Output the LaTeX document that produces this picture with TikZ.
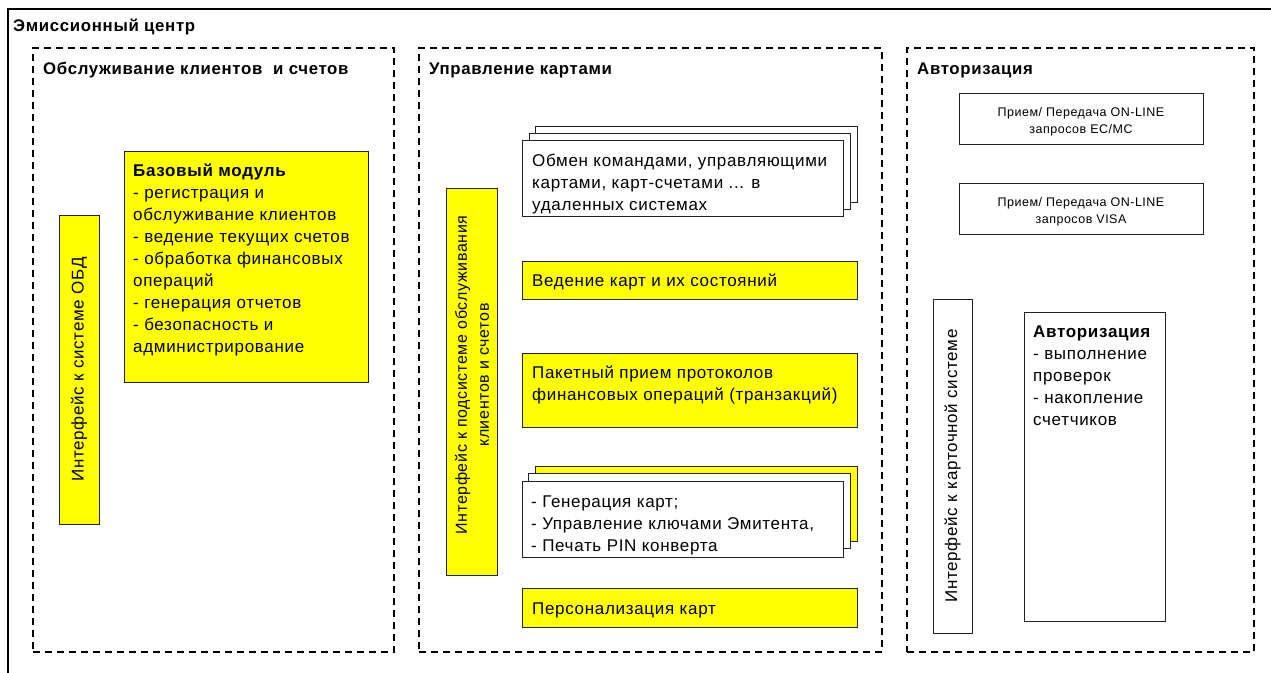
\documentclass[tikz,border=0pt]{standalone}
\usepackage{fontspec}
\setmainfont{Liberation Sans}[LetterSpace=4]
\usetikzlibrary{fit}
\definecolor{boxyellow}{RGB}{255,255,0}
\definecolor{edge}{RGB}{35,35,35}

\tikzset{
  frame/.style={draw, line width=2.8pt, inner sep=0pt},
  panel/.style={draw, line width=1.3pt, dash pattern=on 7pt off 5pt, inner sep=0pt},
  yblock/.style={draw=edge, fill=boxyellow, line width=0.9pt, inner sep=0pt},
  wblock/.style={draw=edge, fill=white, line width=0.9pt, inner sep=0pt},
  txt/.style={inner sep=0pt, anchor=base west, font=\fontsize{17}{22}\selectfont},
  head/.style={inner sep=0pt, anchor=base west, font=\bfseries\fontsize{16.8}{20}\selectfont},
  small/.style={inner sep=0pt, align=center, font=\fontsize{12.5}{17}\selectfont},
  vtext/.style={inner sep=0pt, rotate=90, align=center, font=\fontsize{17}{22}\selectfont},
}
\newcommand\txtlines[1]{\parbox[t]{400pt}{\raggedright #1}}

\begin{document}
\begin{tikzpicture}[x=1pt,y=-1pt]
\useasboundingbox (0,0) rectangle (1271,672);
\clip (0,0) rectangle (1271,672);

% outer frame of the issuing centre (continues past the page edge)
\node[frame, fit={(8,9) (1300,700)}] (centre) {};
\node[head] (centreTitle) at (13,31) {Эмиссионный центр};

% three subsystems
\node[panel, fit={(33,48) (394,652)}] (clients) {};
\node[panel, fit={(419,48) (882,652)}] (cards) {};
\node[panel, fit={(907,48) (1254,652)}] (auth) {};
\node[head] (clientsTitle) at (43,74) {Обслуживание клиентов \ и счетов};
\node[head] (cardsTitle) at (429,74) {Управление картами};
\node[head] (authTitle) at (917,74) {Авторизация};

% --- client and account servicing
\node[yblock, fit={(59,215) (99,524)}] (obdIf) {};
\node[vtext] (obdIfText) at (obdIf.center) {Интерфейс к системе ОБД};
\node[yblock, fit={(124,151) (368,382)}] (base) {};
\node[txt] (baseText) at (133,176) {\txtlines{\textbf{Базовый модуль}\\- регистрация и\\обслуживание клиентов\\- ведение текущих счетов\\- обработка финансовых\\операций\\- генерация отчетов\\- безопасность и\\администрирование}};

% --- card management
\node[yblock, fit={(446,188) (497,575)}] (subIf) {};
\node[vtext, font=\fontsize{16}{22}\selectfont] (subIfText) at (472,375) {Интерфейс к подсистеме обслуживания\\клиентов и счетов};

\node[wblock, fit={(535,126) (857,202)}] (xchC) {};
\node[wblock, fit={(529,133) (850,209)}] (xchB) {};
\node[wblock, fit={(522,140) (843,216)}] (xchA) {};
\node[txt] (xchText) at (532,166) {\txtlines{Обмен командами, управляющими\\картами, карт-счетами ... в\\удаленных системах}};

\node[yblock, fit={(522,261) (857,299)}] (state) {};
\node[txt] (stateText) at (532,286) {Ведение карт и их состояний};

\node[yblock, fit={(522,353) (857,427)}] (batch) {};
\node[txt] (batchText) at (532,378) {\txtlines{Пакетный прием протоколов\\финансовых операций (транзакций)}};

\node[yblock, fit={(535,466) (857,541)}] (genC) {};
\node[wblock, fit={(528,473) (850,548)}] (genB) {};
\node[wblock, fit={(522,481) (843,557)}] (genA) {};
\node[txt] (genText) at (531,507) {\txtlines{- Генерация карт;\\- Управление ключами Эмитента,\\- Печать PIN конверта}};

\node[yblock, fit={(522,588) (857,627)}] (perso) {};
\node[txt] (persoText) at (532,614) {Персонализация карт};

% --- authorization
\node[wblock, fit={(959,93) (1203,144)}] (ecmc) {};
\node[small] (ecmcText) at (1081,122) {Прием/ Передача ON-LINE\\запросов EC/MC};
\node[wblock, fit={(959,183) (1203,234)}] (visa) {};
\node[small] (visaText) at (1081,212) {Прием/ Передача ON-LINE\\запросов VISA};

\node[wblock, fit={(933,299) (972,633)}] (cardIf) {};
\node[vtext] (cardIfText) at (cardIf.center) {Интерфейс к карточной системе};
\node[wblock, fit={(1024,312) (1165,621)}] (authMod) {};
\node[txt] (authModText) at (1033,337) {\txtlines{\textbf{Авторизация}\\- выполнение\\проверок\\- накопление\\счетчиков}};
\end{tikzpicture}
\end{document}
